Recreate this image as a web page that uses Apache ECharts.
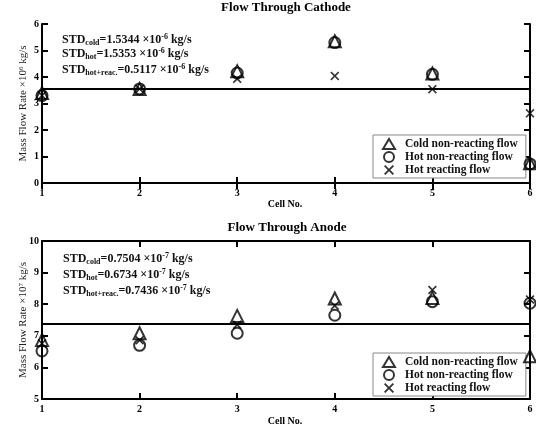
<!DOCTYPE html>
<html>
<head>
<meta charset="utf-8">
<script src="https://cdn.jsdelivr.net/npm/echarts@6/dist/echarts.min.js"></script>
<style>html,body{margin:0;padding:0;background:#fff}#c{width:536px;height:430px}</style>
</head>
<body>
<div id="c"></div>
<script>
// ---- data ----
var cells = [1, 2, 3, 4, 5, 6];
var cathodeCold = [3.40, 3.55, 4.22, 5.35, 4.13, 0.75];
var cathodeHot = [3.30, 3.55, 4.15, 5.30, 4.10, 0.72];
var cathodeReact = [3.30, 3.55, 3.93, 4.04, 3.54, 2.63];
var cathodeMean = 3.55;
var anodeCold = [6.87, 7.08, 7.63, 8.18, 8.20, 6.35];
var anodeHot = [6.52, 6.70, 7.08, 7.65, 8.08, 8.03];
var anodeReact = [6.76, 6.86, 7.35, 7.95, 8.45, 8.15];
var anodeMean = 7.37;
var seriesNames = ['Cold non-reacting flow', 'Hot non-reacting flow', 'Hot reacting flow'];
var cathodeStd = ['1.5344', '1.5353', '0.5117'];
var anodeStd = ['0.7504', '0.6734', '0.7436'];

// ---- styling ----
var FONT = '"Liberation Serif", "Times New Roman", serif';
var crossPath = 'path://M0,1.3L1.3,0L5,3.7L8.7,0L10,1.3L6.3,5L10,8.7L8.7,10L5,6.3L1.3,10L0,8.7L3.7,5Z';
var symbols = ['triangle', 'circle', crossPath];
var symSizes = [12, 11, 9];

function pairs(vals) { return cells.map(function (c, i) { return [c, vals[i]]; }); }

function makeSeries(vals, k, gi, mean) {
  var s = {
    name: seriesNames[k],
    type: 'scatter',
    xAxisIndex: gi * 2,
    yAxisIndex: gi * 2,
    data: pairs(vals),
    symbol: symbols[k],
    symbolSize: symSizes[k],
    clip: false,
    itemStyle: k === 2 ? { color: '#000' } : { color: 'rgba(255,255,255,0)', borderColor: '#000', borderWidth: 2 },
    z: 5
  };
  if (k === 0) {
    s.markLine = {
      silent: true, symbol: 'none', label: { show: false },
      lineStyle: { color: '#000', width: 2, type: 'solid' },
      data: [{ yAxis: mean }]
    };
  }
  return s;
}

var richStd = {
  b: { fontFamily: FONT, fontSize: 12, fontWeight: 'bold', color: '#111' },
  sub: { fontFamily: FONT, fontSize: 8, fontWeight: 'bold', color: '#111', verticalAlign: 'bottom', padding: [6, 0, 0, 0] },
  sup: { fontFamily: FONT, fontSize: 8, fontWeight: 'bold', color: '#111', verticalAlign: 'top', padding: [0, 0, 5, 0] }
};
function stdText(sub, val, exp) {
  return '{b|STD}{sub|' + sub + '}{b|=' + val + ' \u00d710}{sup|' + exp + '}{b| kg/s}';
}
function stdTitles(stds, exp, left, tops) {
  var subs = ['cold', 'hot', 'hot+reac.'];
  return stds.map(function (v, i) {
    return { text: stdText(subs[i], v, exp), left: left, top: tops[i], padding: 0,
      textStyle: { rich: richStd } };
  });
}

function xAxes(gi) {
  var base = { type: 'value', min: 1, max: 6, interval: 1, gridIndex: gi,
    splitLine: { show: false },
    axisLine: { show: true, lineStyle: { color: '#000', width: 2 } },
    axisTick: { inside: true, length: 6, lineStyle: { color: '#000', width: 2 } } };
  return [
    Object.assign({}, base, { position: 'bottom',
      axisLabel: { fontFamily: FONT, fontSize: 10, fontWeight: 'bold', color: '#000', margin: 5 } }),
    Object.assign({}, base, { position: 'top', axisLabel: { show: false } })
  ];
}
function yAxes(gi, min, max, nameRich) {
  var base = { type: 'value', min: min, max: max, interval: 1, gridIndex: gi,
    splitLine: { show: false },
    axisLine: { show: true, lineStyle: { color: '#000', width: 2 } },
    axisTick: { inside: true, length: 6, lineStyle: { color: '#000', width: 2 } } };
  return [
    Object.assign({}, base, { position: 'left',
      name: nameRich, nameLocation: 'middle', nameGap: 13, nameMoveOverlap: false,
      nameTextStyle: { fontFamily: FONT, fontSize: 11, color: '#222',
        rich: { n: { fontFamily: FONT, fontSize: 11, color: '#222' },
                s: { fontFamily: FONT, fontSize: 7, color: '#222', verticalAlign: 'top', padding: [0, 0, 4, 0] } } },
      axisLabel: { fontFamily: FONT, fontSize: 10, fontWeight: 'bold', color: '#000', margin: 3 } }),
    Object.assign({}, base, { position: 'right', axisLabel: { show: false } })
  ];
}

var titleStyle = { fontFamily: FONT, fontSize: 13, fontWeight: 'bold', color: '#000' };
var cellStyle = { fontFamily: FONT, fontSize: 10, fontWeight: 'bold', color: '#000' };

function legend(top) {
  return {
    data: seriesNames, orient: 'vertical', left: 373, top: top,
    itemWidth: 12, itemHeight: 10, itemGap: 1, padding: [3, 8, 2, 9],
    borderColor: '#888', borderWidth: 1, backgroundColor: '#fff',
    selectedMode: false, inactiveColor: '#000',
    textStyle: { fontFamily: FONT, fontSize: 11.5, fontWeight: 'bold', color: '#111', padding: [0, 0, 0, 5] }
  };
}

var option = {
  backgroundColor: '#fff',
  animation: false,
  title: [
    { text: 'Flow Through Cathode', left: 286, top: 1, textAlign: 'center', padding: 0, textStyle: titleStyle },
    { text: 'Cell No.', left: 285, top: 199, textAlign: 'center', padding: 0, textStyle: cellStyle },
    { text: 'Flow Through Anode', left: 287, top: 221, textAlign: 'center', padding: 0, textStyle: titleStyle },
    { text: 'Cell No.', left: 285, top: 416, textAlign: 'center', padding: 0, textStyle: cellStyle }
  ].concat(stdTitles(cathodeStd, '-6', 62, [33, 47, 63]))
   .concat(stdTitles(anodeStd, '-7', 63, [252, 268, 284])),
  legend: [legend(135), legend(353)],
  grid: [
    { left: 42, right: 6, top: 24, height: 159 },
    { left: 42, right: 6, top: 241, height: 158 }
  ],
  xAxis: xAxes(0).concat(xAxes(1)),
  yAxis: yAxes(0, 0, 6, '{n|Mass Flow Rate \u00d710}{s|6}{n| kg/s}')
    .concat(yAxes(1, 5, 10, '{n|Mass Flow Rate \u00d710}{s|7}{n| kg/s}')),
  series: [
    makeSeries(cathodeCold, 0, 0, cathodeMean),
    makeSeries(cathodeHot, 1, 0),
    makeSeries(cathodeReact, 2, 0),
    makeSeries(anodeCold, 0, 1, anodeMean),
    makeSeries(anodeHot, 1, 1),
    makeSeries(anodeReact, 2, 1)
  ]
};
var chart = echarts.init(document.getElementById('c'), null, { renderer: 'canvas' });
chart.setOption(option);
</script>
</body>
</html>
